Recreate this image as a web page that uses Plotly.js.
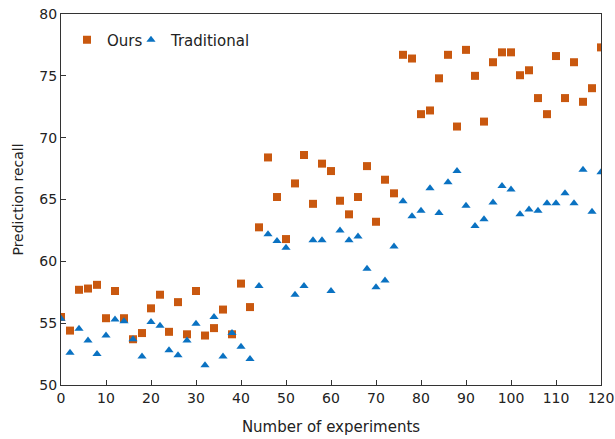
<!DOCTYPE html>
<html>
<head>
<meta charset="utf-8">
<script src="https://cdn.plot.ly/plotly-3.0.1.min.js"></script>
<style>html,body{margin:0;padding:0;background:#fff}#chart{width:615px;height:439px}</style>
</head>
<body>
<div id="chart"></div>
<script>
const experiments = [0,2,4,6,8,10,12,14,16,18,20,22,24,26,28,30,32,34,36,38,40,42,44,46,48,50,52,54,56,58,60,62,64,66,68,70,72,74,76,78,80,82,84,86,88,90,92,94,96,98,100,102,104,106,108,110,112,114,116,118,120];
const oursRecall = [55.5,54.4,57.7,57.8,58.1,55.4,57.6,55.4,53.7,54.2,56.2,57.3,54.3,56.7,54.1,57.6,54.0,54.6,56.1,54.1,58.2,56.3,62.75,68.4,65.2,61.8,66.3,68.6,64.65,67.9,67.3,64.9,63.8,65.2,67.7,63.2,66.6,65.5,76.7,76.4,71.9,72.2,74.8,76.7,70.9,77.1,75.0,71.3,76.1,76.9,76.9,75.05,75.45,73.2,71.9,76.6,73.2,76.1,72.9,74.0,77.3];
const traditionalRecall = [55.35,52.6,54.55,53.6,52.5,54.0,55.3,55.15,53.7,52.3,55.1,54.8,52.8,52.4,53.6,54.95,51.6,55.5,52.3,54.2,53.1,52.1,58.0,62.2,61.65,61.1,57.3,58.0,61.7,61.7,57.6,62.5,61.7,62.0,59.4,57.9,58.45,61.2,64.85,63.65,64.1,65.9,63.9,66.4,67.3,64.5,62.85,63.4,64.75,66.1,65.8,63.8,64.2,64.1,64.7,64.7,65.5,64.7,67.4,64.0,67.2];
const seriesNames = ["Ours","Traditional"];
const xTicks = [0,10,20,30,40,50,60,70,80,90,100,110,120];
const yTicks = [50,55,60,65,70,75,80];

const font = {family: "DejaVu Sans, Verdana, sans-serif", size: 14, color: "#222"};
const legendFont = {family: font.family, size: 15, color: "#222"};
const traces = [
  {x: experiments, y: oursRecall, name: seriesNames[0], type: "scatter", mode: "markers",
   legend: "legend", marker: {symbol: "square", size: 8, color: "#C9580F"}},
  {x: experiments, y: traditionalRecall, name: seriesNames[1], type: "scatter", mode: "markers",
   legend: "legend2", marker: {symbol: "triangle-up", size: 8, color: "#0A72C2"}}
];
const axisCommon = {showgrid: false, zeroline: false, showline: true, mirror: true,
  linecolor: "#333", linewidth: 1, ticks: "inside", ticklen: 5, tickcolor: "#333",
  tickfont: font};
const legendCommon = {orientation: "h", y: 0.93, xanchor: "left", yanchor: "middle",
  bgcolor: "rgba(0,0,0,0)", font: legendFont, itemwidth: 30};
const layout = {
  width: 615, height: 439,
  margin: {l: 61, r: 14, t: 14, b: 54},
  paper_bgcolor: "#fff", plot_bgcolor: "#fff",
  font: font,
  showlegend: true,
  legend: Object.assign({}, legendCommon, {x: 0.0111}),
  legend2: Object.assign({}, legendCommon, {x: 0.1296}),
  xaxis: Object.assign({}, axisCommon, {range: [0, 120], tickvals: xTicks,
    title: {text: "Number of experiments", font: legendFont, standoff: 16}}),
  yaxis: Object.assign({}, axisCommon, {range: [50, 80], tickvals: yTicks,
    title: {text: "Prediction recall", font: font, standoff: 12}})
};
Plotly.newPlot("chart", traces, layout, {displayModeBar: false, staticPlot: true});
</script>
</body>
</html>
